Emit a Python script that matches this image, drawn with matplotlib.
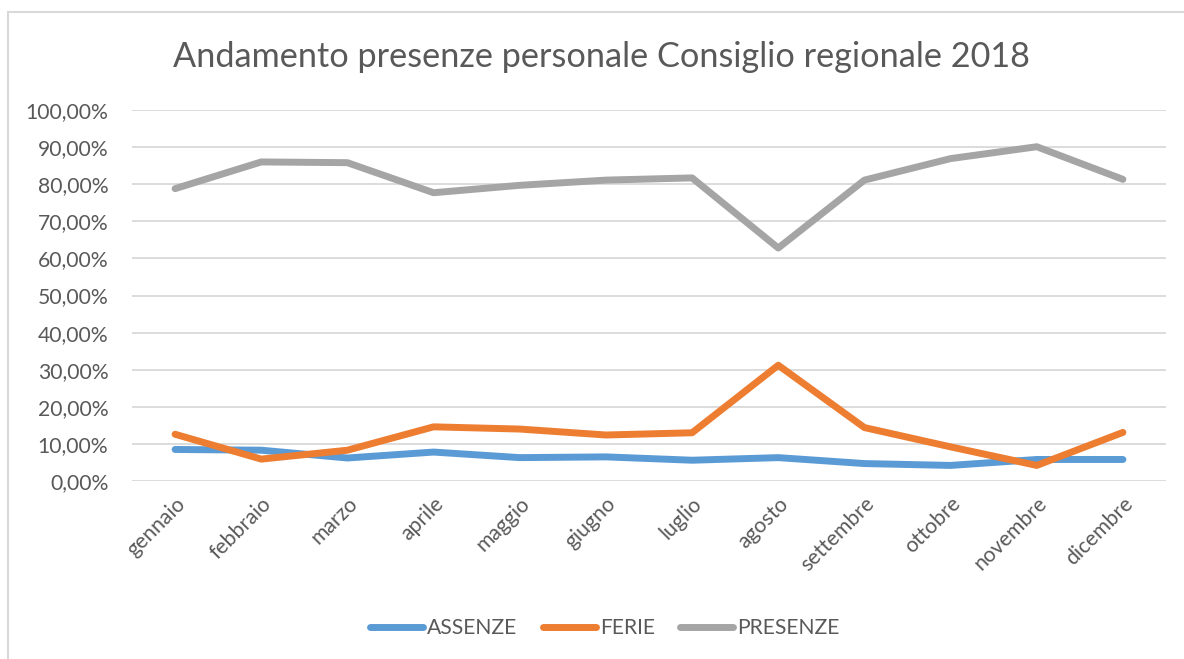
import matplotlib
matplotlib.use("Agg")
import matplotlib.pyplot as plt
from matplotlib.patches import Rectangle
from matplotlib.ticker import FuncFormatter, MultipleLocator

mesi = ["gennaio", "febbraio", "marzo", "aprile", "maggio", "giugno",
        "luglio", "agosto", "settembre", "ottobre", "novembre", "dicembre"]
assenze = [8.5, 8.3, 6.2, 7.8, 6.3, 6.5, 5.6, 6.3, 4.7, 4.2, 5.8, 5.8]
ferie = [12.6, 5.9, 8.3, 14.6, 14.0, 12.4, 13.0, 31.2, 14.4, 9.2, 4.2, 13.1]
presenze = [78.8, 86.0, 85.8, 77.7, 79.7, 81.1, 81.7, 62.8, 81.1, 86.9, 90.1, 81.3]

plt.rcParams["font.family"] = ["Lato", "DejaVu Sans"]
grey_txt = "#595959"

fig = plt.figure(figsize=(11.84, 6.59), dpi=100)
fig.patches.append(Rectangle((8 / 1184, -0.05), 1.2, 1 - 12 / 659 + 0.05,
                             transform=fig.transFigure, fill=False,
                             edgecolor="#D9D9D9", linewidth=1.5))

ax = fig.add_axes([132 / 1184, 1 - 481 / 659, 1034 / 1184, 371 / 659])
x = list(range(len(mesi)))
ax.plot(x, assenze, color="#5B9BD5", lw=5, solid_capstyle="round", label="ASSENZE")
ax.plot(x, ferie, color="#ED7D31", lw=5, solid_capstyle="round", label="FERIE")
ax.plot(x, presenze, color="#A5A5A5", lw=5, solid_capstyle="round", label="PRESENZE")

ax.set_xlim(-0.5, len(mesi) - 0.5)
ax.set_ylim(0, 100)
ax.yaxis.set_major_locator(MultipleLocator(10))
ax.yaxis.set_major_formatter(FuncFormatter(lambda v, p: f"{v:.2f}%".replace(".", ",")))
ax.grid(axis="y", color="#D9D9D9", lw=1.3)
ax.set_axisbelow(True)
for s in ax.spines.values():
    s.set_visible(False)
ax.tick_params(length=0, labelsize=15.2, labelcolor=grey_txt)
ax.tick_params(axis="y", pad=17)
ax.set_xticks(x)
ax.set_xticklabels(mesi, rotation=45, ha="right", rotation_mode="anchor")
ax.tick_params(axis="x", pad=9)

fig.text(601 / 1184, 1 - 57 / 659, "Andamento presenze personale Consiglio regionale 2018",
         ha="center", va="center", fontsize=24.7, color=grey_txt)

fig.legend(loc="center", bbox_to_anchor=(605 / 1184, 1 - 628 / 659), ncol=3,
           frameon=False, fontsize=15.2, labelcolor=grey_txt, handlelength=2.5,
           handletextpad=0.2, columnspacing=1.2)

fig.savefig("out.png", dpi=100)
